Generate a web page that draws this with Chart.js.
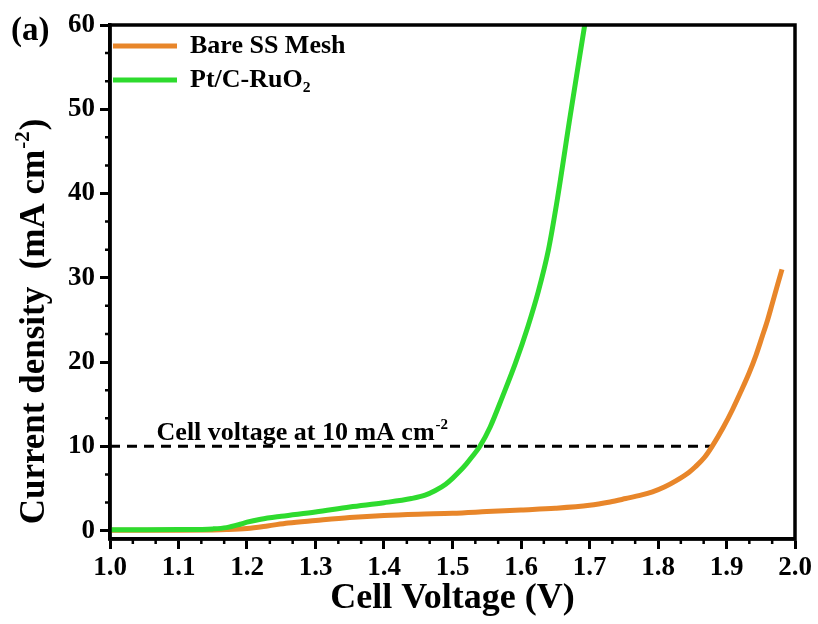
<!DOCTYPE html>
<html>
<head>
<meta charset="utf-8">
<script src="https://cdn.jsdelivr.net/npm/chart.js@4.4.1/dist/chart.umd.min.js"></script>
<style>
  html, body { margin: 0; padding: 0; background: #fff; }
  #wrap { width: 818px; height: 624px; }
</style>
</head>
<body>
<div id="wrap"><canvas id="lsvChart" width="818" height="624"></canvas></div>
<script>
// Werte
const bareVoltage = [1.00, 1.10, 1.15, 1.17, 1.20, 1.23, 1.26, 1.30, 1.35, 1.40, 1.45, 1.50, 1.55, 1.60, 1.65, 1.70, 1.73, 1.753, 1.775, 1.792, 1.81, 1.826, 1.845, 1.855, 1.868, 1.879, 1.895, 1.909, 1.921, 1.933, 1.943, 1.952, 1.96, 1.967, 1.975, 1.981];
const bareCurrent = [0.05, 0.05, 0.08, 0.12, 0.25, 0.55, 0.9, 1.2, 1.55, 1.8, 1.95, 2.05, 2.25, 2.45, 2.65, 3.0, 3.4, 3.8, 4.2, 4.6, 5.2, 5.9, 6.9, 7.6, 8.7, 10.0, 12.2, 14.4, 16.5, 18.7, 20.8, 23.0, 25.0, 27.0, 29.3, 31.0];

const ptcVoltage = [1.00, 1.05, 1.10, 1.15, 1.17, 1.19, 1.20, 1.22, 1.25, 1.30, 1.35, 1.40, 1.44, 1.46, 1.475, 1.49, 1.50, 1.51, 1.52, 1.53, 1.54, 1.555, 1.573, 1.592, 1.61, 1.625, 1.64, 1.652, 1.672, 1.693];
const ptcCurrent = [0.10, 0.10, 0.12, 0.20, 0.35, 0.75, 1.0, 1.35, 1.7, 2.2, 2.8, 3.3, 3.8, 4.2, 4.75, 5.5, 6.2, 7.0, 7.9, 8.9, 10.0, 12.3, 15.9, 19.9, 24.2, 28.3, 33.3, 38.8, 49.3, 60.0];

// gestrichelte Linie bei 10 mA cm-2
const refVoltage = [1.0, 1.88];
const refCurrent = [10, 10];

const xTicks = [1.0, 1.1, 1.2, 1.3, 1.4, 1.5, 1.6, 1.7, 1.8, 1.9, 2.0];
const yTicks = [0, 10, 20, 30, 40, 50, 60];

const serif = "'Liberation Serif', 'Times New Roman', 'DejaVu Serif', serif";

function toPoints(xs, ys) {
    return xs.map((x, i) => ({ x: x, y: ys[i] }));
}

// Text mit hochgestelltem Teil zeichnen
function drawSup(c, base, sup, after, x, y, size, supSize, rise) {
    c.font = 'bold ' + size + 'px ' + serif;
    c.fillText(base, x, y);
    let w = c.measureText(base).width;
    c.font = 'bold ' + supSize + 'px ' + serif;
    c.fillText(sup, x + w + 1, y - rise);
    w += c.measureText(sup).width + 2;
    if (after) {
        c.font = 'bold ' + size + 'px ' + serif;
        c.fillText(after, x + w, y);
    }
}

function supWidth(c, base, sup, after, size, supSize) {
    c.font = 'bold ' + size + 'px ' + serif;
    let w = c.measureText(base).width + c.measureText(after).width;
    c.font = 'bold ' + supSize + 'px ' + serif;
    return w + c.measureText(sup).width + 3;
}

// Legende in die Zeichenfläche schieben
const legendPos = {
    id: 'legendPos',
    afterLayout(chart) {
        if (chart.legend) {
            chart.legend.left = 105;
            chart.legend.top = 25;
        }
    }
};

// Rahmen, kleine Ticks und Beschriftungen
const extras = {
    id: 'extras',
    afterDraw(chart) {
        const c = chart.ctx;
        const a = chart.chartArea;
        const xs = chart.scales.x;
        const ys = chart.scales.y;
        c.save();
        c.strokeStyle = '#000';
        c.lineWidth = 3.5;
        c.strokeRect(a.left, a.top, a.right - a.left, a.bottom - a.top);

        // kleine Ticks (2 zwischen den grossen)
        c.lineWidth = 2.5;
        c.beginPath();
        for (let i = 0; i < xTicks.length - 1; i++) {
            for (let k = 1; k <= 2; k++) {
                const px = xs.getPixelForValue(xTicks[i] + k * (xTicks[i + 1] - xTicks[i]) / 3);
                c.moveTo(px, a.bottom);
                c.lineTo(px, a.bottom + 5);
            }
        }
        for (let i = 0; i < yTicks.length - 1; i++) {
            for (let k = 1; k <= 2; k++) {
                const py = ys.getPixelForValue(yTicks[i] + k * (yTicks[i + 1] - yTicks[i]) / 3);
                c.moveTo(a.left, py);
                c.lineTo(a.left - 5, py);
            }
        }
        c.stroke();

        c.fillStyle = '#000';
        c.textBaseline = 'alphabetic';
        c.textAlign = 'left';

        // Text an der gestrichelten Linie
        const tx = xs.getPixelForValue(1.068);
        const ty = ys.getPixelForValue(10) - 6;
        drawSup(c, 'Cell voltage at 10 mA cm', '-2', '', tx, ty, 26, 15, 11);

        // y-Achsentitel
        c.save();
        c.translate(44, 321);
        c.rotate(-Math.PI / 2);
        const tw = supWidth(c, 'Current density  (mA cm', '-2', ')', 35, 21);
        drawSup(c, 'Current density  (mA cm', '-2', ')', -tw / 2, 0, 35, 21, 15);
        c.restore();

        // (a)
        c.font = 'bold 33px ' + serif;
        c.fillText('(a)', 11, 40);
        c.restore();
    }
};

const config = {
    type: 'line',
    data: {
        datasets: [
            {
                label: 'Bare SS Mesh',
                data: toPoints(bareVoltage, bareCurrent),
                borderColor: '#E8862A',
                backgroundColor: '#E8862A',
                borderWidth: 5,
                pointRadius: 0,
                cubicInterpolationMode: 'monotone',
                order: 2
            },
            {
                label: 'Pt/C-RuO\u2082',
                data: toPoints(ptcVoltage, ptcCurrent),
                borderColor: '#2EDB2E',
                backgroundColor: '#2EDB2E',
                borderWidth: 5,
                pointRadius: 0,
                cubicInterpolationMode: 'monotone',
                order: 1
            },
            {
                label: 'ref',
                data: toPoints(refVoltage, refCurrent),
                borderColor: '#000',
                borderWidth: 3,
                borderDash: [10, 7],
                pointRadius: 0,
                order: 3
            }
        ]
    },
    options: {
        responsive: false,
        animation: false,
        layout: { padding: { left: 20, right: 23, top: 25, bottom: 4 } },
        plugins: {
            tooltip: { enabled: false },
            legend: {
                position: 'chartArea',
                align: 'start',
                labels: {
                    filter: item => item.text !== 'ref',
                    sort: (a, b) => a.datasetIndex - b.datasetIndex,
                    usePointStyle: true,
                    pointStyle: 'line',
                    pointStyleWidth: 64,
                    color: '#000',
                    padding: 8,
                    font: { family: serif, size: 26, weight: 'bold' }
                }
            }
        },
        scales: {
            x: {
                type: 'linear',
                min: 1.0,
                max: 2.0,
                afterBuildTicks: s => { s.ticks = xTicks.map(v => ({ value: v })); },
                afterFit: s => { s.height = 81; },
                ticks: {
                    color: '#000',
                    padding: 3,
                    maxRotation: 0,
                    font: { family: serif, size: 27, weight: 'bold' },
                    callback: v => v.toFixed(1)
                },
                grid: { drawOnChartArea: false, drawTicks: true, tickLength: 10, tickWidth: 3, tickColor: '#000' },
                border: { display: true, color: '#000', width: 3.5 },
                title: {
                    display: true,
                    text: 'Cell Voltage (V)',
                    color: '#000',
                    padding: 0,
                    font: { family: serif, size: 36, weight: 'bold' }
                }
            },
            y: {
                type: 'linear',
                min: -1,
                max: 60,
                afterBuildTicks: s => { s.ticks = yTicks.map(v => ({ value: v })); },
                afterFit: s => { s.width = 90; },
                ticks: {
                    color: '#000',
                    padding: 5,
                    font: { family: serif, size: 27, weight: 'bold' }
                },
                grid: { drawOnChartArea: false, drawTicks: true, tickLength: 10, tickWidth: 3, tickColor: '#000' },
                border: { display: true, color: '#000', width: 3.5 },
                title: { display: false }
            }
        }
    },
    plugins: [legendPos, extras]
};

const lsvChart = new Chart(document.getElementById('lsvChart').getContext('2d'), config);
</script>
</body>
</html>
